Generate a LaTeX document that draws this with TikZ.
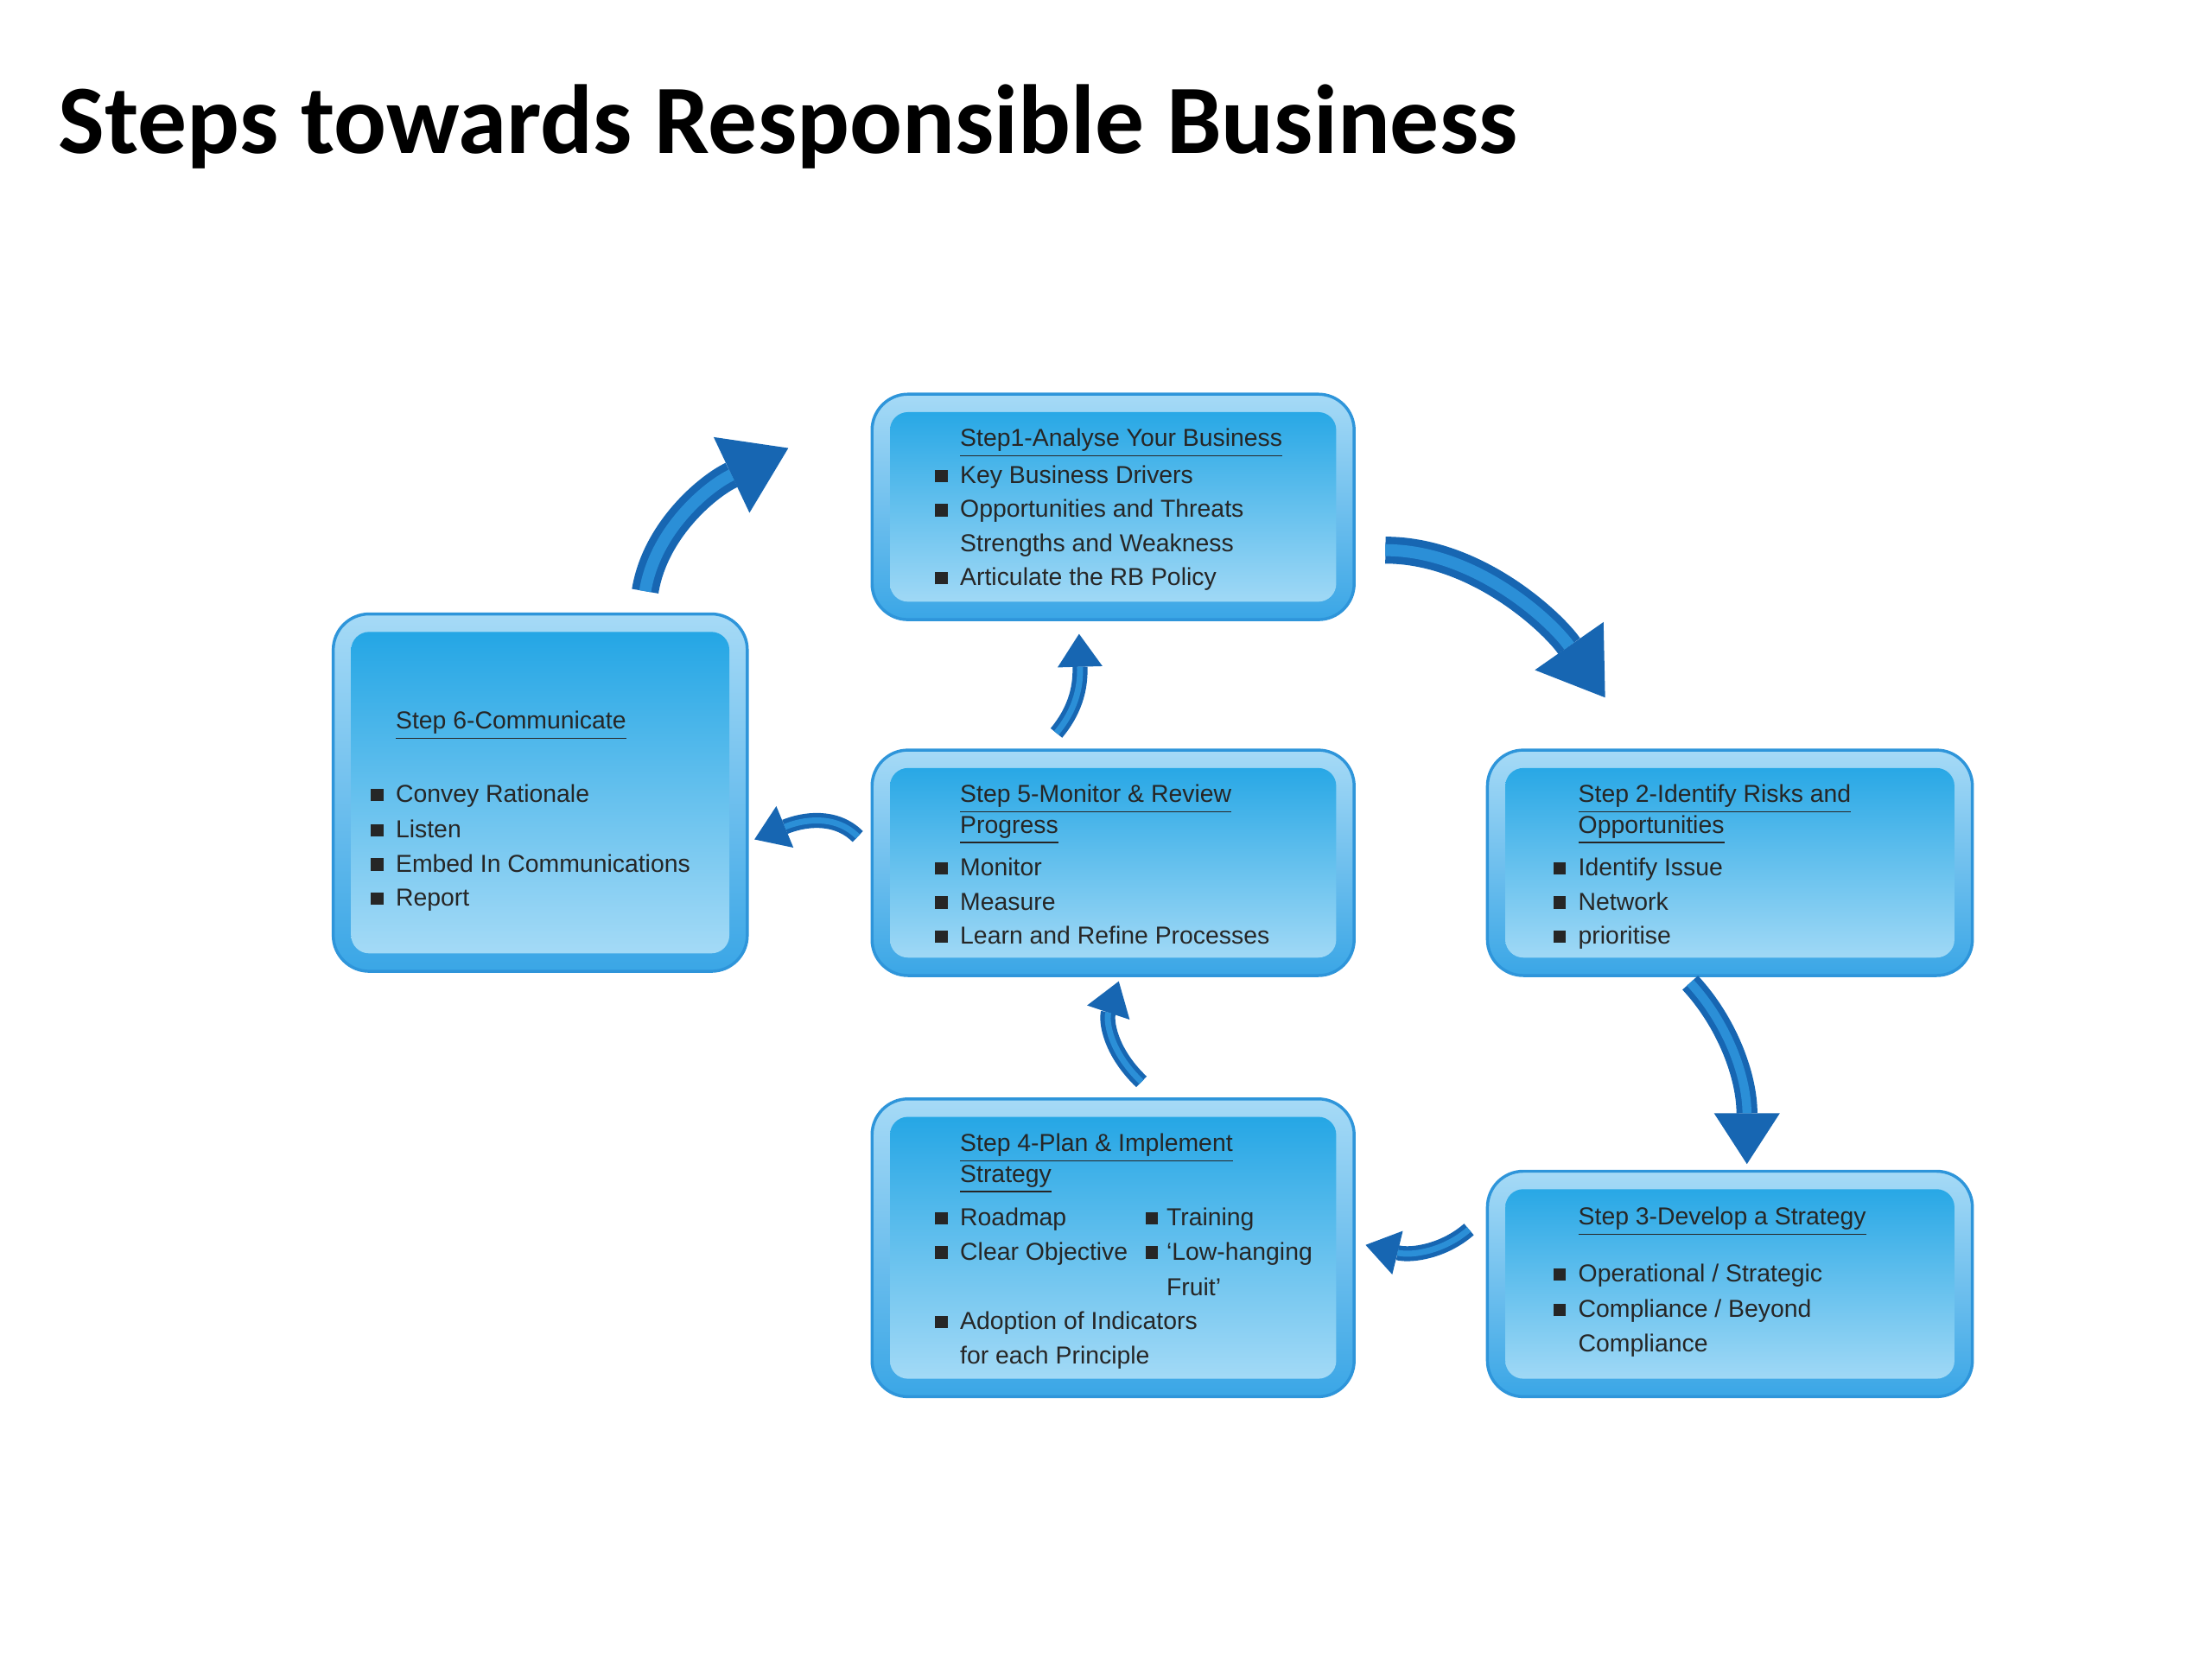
\documentclass[tikz,border=0pt]{standalone}
\usepackage{fontspec}
\setmainfont{Liberation Sans}
\newfontfamily\titlefont{Carlito}
\usepackage{tikz}
\usetikzlibrary{calc,positioning,fit,arrows.meta}
\usepackage{xcolor}
\definecolor{boxedge}{HTML}{2E95DA}
\definecolor{rimtop}{HTML}{A6DAF6}
\definecolor{rimbot}{HTML}{3AA6E6}
\definecolor{innertop}{HTML}{1DA3E4}
\definecolor{innerbot}{HTML}{ABDDF7}
\definecolor{arrowdark}{HTML}{1766B2}
\definecolor{arrowlight}{HTML}{2B8FD7}
\definecolor{textgrey}{HTML}{262626}
\newcommand{\bsq}{\rule[0.4pt]{4.2pt}{4.2pt}}

\begin{document}
\begin{tikzpicture}[x=0.0166667cm, y=-0.0166667cm]
      \tikzset{
	  stepbox/.style={rectangle, inner sep=0pt, rounded corners=12pt, draw=boxedge, line width=1pt,
	    top color=rimtop, bottom color=rimbot,
	    path picture={\shade[top color=innertop, bottom color=innerbot, rounded corners=6pt]
	      ($(path picture bounding box.south west)+(6pt,6pt)$) rectangle ($(path picture bounding box.north east)+(-6pt,-6pt)$);}},
	  steptext/.style={anchor=base west, inner sep=0pt, text=textgrey, font=\fontsize{8.2}{11.4}\selectfont},
	  bigflow/.style={draw=arrowdark, line width=9pt, -{Triangle[width=28pt,length=21pt,line width=0pt]},
	    postaction={draw=arrowlight, line width=4pt, shorten >=21pt, -}},
	  midflow/.style={draw=arrowdark, line width=7pt, -{Triangle[width=22pt,length=17pt,line width=0pt]},
	    postaction={draw=arrowlight, line width=3pt, shorten >=17pt, -}},
	  smallflow/.style={draw=arrowdark, line width=5pt, -{Triangle[width=15pt,length=11pt,line width=0pt]},
	    postaction={draw=arrowlight, line width=2pt, shorten >=11pt, -}},
      }
      \fill[white] (0,0) rectangle (1560,1170);
      \useasboundingbox (0,0) rectangle (1560,1170);

      \node (title) [anchor=base west, inner sep=0pt, font=\titlefont\bfseries\fontsize{32.8}{40}\selectfont] at (41,108) {Steps towards Responsible Business};

      % the six steps
      \node (s1) [stepbox, fit={(615,278) (955,437)}] {};
      \node (s2) [stepbox, fit={(1049,529) (1391,688)}] {};
      \node (s3) [stepbox, fit={(1049,826) (1391,985)}] {};
      \node (s4) [stepbox, fit={(615,775) (955,985)}] {};
      \node (s5) [stepbox, fit={(615,529) (955,688)}] {};
      \node (s6) [stepbox, fit={(235,433) (527,685)}] {};

      \node (t1) at (659,315) [steptext] {\begin{tabular}[t]{@{}l@{\hspace{4.2pt}}l@{}}
	& \underline{Step1-Analyse Your Business}\\[0.9pt]
	\bsq & Key Business Drivers\\
	\bsq & Opportunities and Threats\\
	& Strengths and Weakness\\
	\bsq & Articulate the RB Policy
      \end{tabular}};

      \node (t2) at (1095,566) [steptext] {\begin{tabular}[t]{@{}l@{\hspace{4.2pt}}l@{}}
	& \underline{Step 2-Identify Risks and}\\[-1.4pt]
	& \underline{Opportunities}\\[2.8pt]
	\bsq & Identify Issue\\
	\bsq & Network\\
	\bsq & prioritise
      \end{tabular}};

      \node (t3) at (1095,864) [steptext] {\begin{tabular}[t]{@{}l@{\hspace{4.2pt}}l@{}}
	& \underline{Step 3-Develop a Strategy}\\[7.6pt]
	\bsq & Operational / Strategic\\[0.5pt]
	\bsq & Compliance / Beyond\\
	& Compliance
      \end{tabular}};

      \node (t4) at (659,812) [steptext] {\begin{tabular}[t]{@{}l@{\hspace{4.2pt}}p{62pt}@{}l@{\hspace{2.8pt}}l@{}}
	& \multicolumn{3}{@{}l@{}}{\underline{Step 4-Plan \& Implement}}\\[-1.4pt]
	& \multicolumn{3}{@{}l@{}}{\underline{Strategy}}\\[3.2pt]
	\bsq & Roadmap & \bsq & Training\\
	\bsq & Clear Objective & \bsq & ‘Low-hanging\\[0.5pt]
	& & & Fruit’\\
	\bsq & \multicolumn{3}{@{}l@{}}{Adoption of Indicators}\\
	& \multicolumn{3}{@{}l@{}}{for each Principle}
      \end{tabular}};

      \node (t5) at (659,566) [steptext] {\begin{tabular}[t]{@{}l@{\hspace{4.2pt}}l@{}}
	& \underline{Step 5-Monitor \& Review}\\[-1.4pt]
	& \underline{Progress}\\[2.8pt]
	\bsq & Monitor\\
	\bsq & Measure\\
	\bsq & Learn and Refine Processes
      \end{tabular}};

      \node (t6) at (261,514) [steptext] {\begin{tabular}[t]{@{}l@{\hspace{4.2pt}}l@{}}
	& \underline{Step 6-Communicate}\\[13.2pt]
	\bsq & Convey Rationale\\[0.5pt]
	\bsq & Listen\\
	\bsq & Embed In Communications\\
	\bsq & Report
      \end{tabular}};

      % curved arrows between the steps
      \draw [bigflow] ($(s6.north)+(74,-15)$) .. controls +(7,-43) and +(-57,27) .. ($(s1.west)+(-58,-41.5)$);
      \draw [bigflow] ($(s1.east)+(21,30.5)$) .. controls +(64,0) and +(-37,-53) .. ($(s2.north)+(-88,-36)$);
      \draw [midflow] ($(s2.south)+(-28,4)$) .. controls +(26,28) and +(0,-62) .. ($(s3.north)+(12,-4)$);
      \draw [smallflow] ($(s3.west)+(-12,-38.5)$) .. controls +(-17,15) and +(33,8) .. ($(s4.east)+(7,-2)$);
      \draw [smallflow] ($(s4.north)+(20,-11)$) .. controls +(-23,-22) and +(-9,27) .. ($(s5.south)+(4,3)$);
      \draw [smallflow] ($(s5.north)+(-40,-11)$) .. controls +(15,-18) and +(1,35) .. ($(s1.south)+(-24,9)$);
      \draw [smallflow] ($(s5.west)+(-9,-18.5)$) .. controls +(-16,-16) and +(34,-14) .. ($(s6.east)+(4,33)$);
    \end{tikzpicture}
\end{document}
